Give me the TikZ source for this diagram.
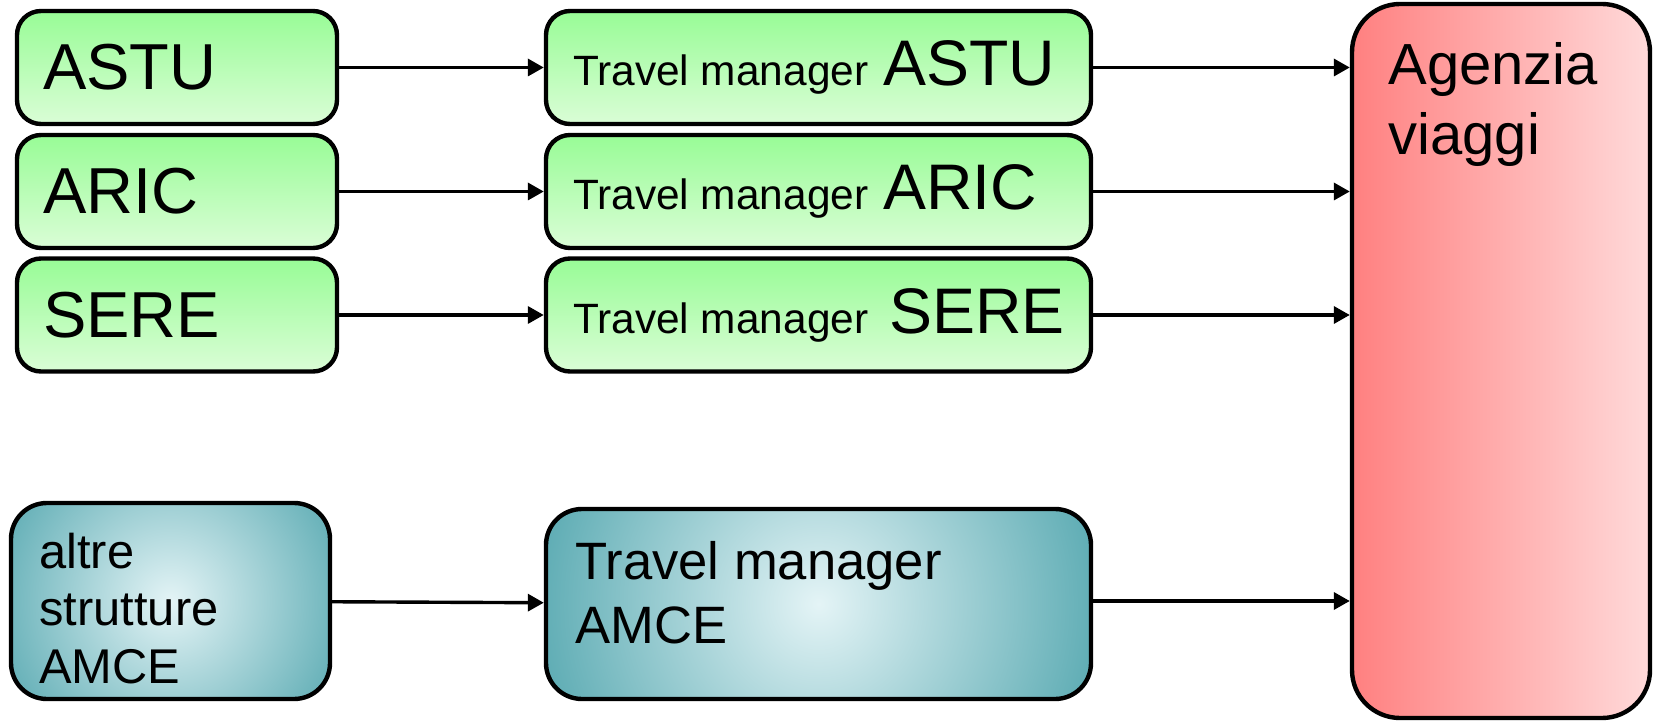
\documentclass[tikz,border=0pt]{standalone}
\usepackage{fontspec}
\setmainfont{Liberation Sans}
\usetikzlibrary{arrows.meta}
\definecolor{gtop}{RGB}{152,252,150}
\definecolor{gbot}{RGB}{218,253,214}
\definecolor{tedge}{RGB}{86,168,176}
\definecolor{tmid}{RGB}{228,244,246}
\definecolor{rleft}{RGB}{255,128,128}
\definecolor{rright}{RGB}{255,218,218}
\tikzset{
  gbox/.style={draw=black, line width=2.2pt, rounded corners=12pt,
    top color=gtop, bottom color=gbot, align=left, inner ysep=0pt},
  srcbox/.style={gbox, minimum height=56.5pt, text width=134pt, inner xsep=13pt,
    font=\fontsize{32.5}{39}\selectfont},
  tmbox/.style={gbox, minimum height=56.5pt, text width=245.5pt, inner xsep=13.5pt,
    font=\fontsize{32.2}{39}\selectfont},
  tbox/.style={draw=black, line width=2.2pt, rounded corners=18pt, inner sep=0pt,
    path picture={
      \fill[tedge] (path picture bounding box.south west) rectangle (path picture bounding box.north east);
      \shade[inner color=tmid, outer color=tedge] (path picture bounding box.center) circle (#1);
    }},
  rbox/.style={draw=black, line width=2.2pt, rounded corners=24pt,
    left color=rleft, right color=rright, inner sep=0pt},
  lbl/.style={anchor=base west, inner sep=0pt},
  arr/.style={line width=1.7pt, -{Triangle[length=8pt,width=8.5pt]}},
}
\newcommand{\smalltm}{{\fontsize{21.2}{26}\selectfont Travel manager}}
\newcommand{\tmtext}[2][]{\spaceskip=0pt\xspaceskip=0pt\mbox{\smalltm\hspace{7.5pt}#1#2}}
\begin{document}
\begin{tikzpicture}[x=0.5pt,y=-0.5pt]
\useasboundingbox (0,0) rectangle (1653,721);
% source boxes
\node[srcbox] (astu) at (177,67.5) {ASTU};
\node[srcbox] (aric) at (177,191.5) {ARIC};
\node[srcbox] (sere) at (177,315) {SERE};
% travel manager boxes
\node[tmbox] (tmastu) at (818.5,67.5) {\tmtext{ASTU}};
\node[tmbox] (tmaric) at (818.5,191.5) {\tmtext{ARIC}};
\node[tmbox] (tmsere) at (818.5,315) {\tmtext[\hspace{3pt}]{SERE}};
% teal boxes
\node[tbox=100pt, minimum width=159.5pt, minimum height=98pt] (altre) at (170.5,601) {};
\node[tbox=150pt, minimum width=272.5pt, minimum height=95pt] (tmamce) at (818.5,604) {};
% agency
\node[rbox, minimum width=149pt, minimum height=357pt] (ag) at (1501,361) {};
% texts
\node[lbl, font=\fontsize{29}{35}\selectfont] (agt) at (1388,85)
  {\begin{tabular}[t]{@{}l@{}}Agenzia\\viaggi\end{tabular}};
\node[lbl, font=\fontsize{24.4}{28.75}\selectfont] (altret) at (39,568)
  {\begin{tabular}[t]{@{}l@{}}altre\\strutture\\AMCE\end{tabular}};
\node[lbl, font=\fontsize{26.3}{32}\selectfont] (tmamcet) at (575,579)
  {\begin{tabular}[t]{@{}l@{}}Travel manager\\AMCE\end{tabular}};
% connectors
\draw[arr] (astu) -- (tmastu);
\draw[arr] (aric) -- (tmaric);
\draw[arr] (sere) -- (tmsere);
\draw[arr] (altre) -- (tmamce);
\draw[arr] (tmastu.east) -- (tmastu.east -| ag.west);
\draw[arr] (tmaric.east) -- (tmaric.east -| ag.west);
\draw[arr] (tmsere.east) -- (tmsere.east -| ag.west);
\draw[arr] ([yshift=1.5pt]tmamce.east) -- ([yshift=1.5pt]tmamce.east -| ag.west);
\end{tikzpicture}
\end{document}
